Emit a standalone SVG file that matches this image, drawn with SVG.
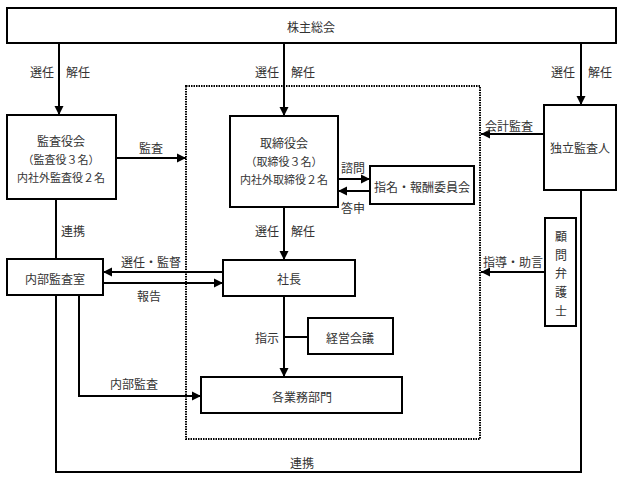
<svg xmlns="http://www.w3.org/2000/svg" width="623" height="479" viewBox="0 0 623 479">
<style>
text{font-family:"Noto Sans CJK JP","Noto Sans CJK SC",sans-serif;font-size:12px;fill:#333;text-anchor:middle;dominant-baseline:central}
.s{font-size:11px}
.box{fill:#fff;stroke:#000;stroke-width:2}
.ln{fill:none;stroke:#000;stroke-width:2}
.ar{marker-end:url(#ah)}
.dot{fill:none;stroke:#000;stroke-width:2;stroke-dasharray:1.5,1}
</style>
<defs>
<marker id="ah" markerUnits="userSpaceOnUse" markerWidth="10" markerHeight="10" refX="9" refY="5" orient="auto">
<path d="M0,0.5 L9,5 L0,9.5 z" fill="#000"/>
</marker>
</defs>
<rect class="dot" x="186" y="86" width="294" height="353"/>
<g id="connectors">
<path class="ln ar" d="M59,43 V115"/>
<path class="ln ar" d="M284,43 V116"/>
<path class="ln ar" d="M581,43 V105"/>
<path class="ln ar" d="M116,158 H186"/>
<path class="ln ar" d="M338,179 H370"/>
<path class="ln ar" d="M370,191 H338"/>
<path class="ln ar" d="M544,134 H481"/>
<path class="ln ar" d="M545,272 H481"/>
<path class="ln ar" d="M284,207 V260"/>
<path class="ln ar" d="M223,272 H103"/>
<path class="ln ar" d="M103,283 H223"/>
<path class="ln ar" d="M284,296 V377"/>
<path class="ln" d="M284,337 H308"/>
<path class="ln ar" d="M79,295 V396 H201"/>
<path class="ln" d="M56,199 V259"/>
<path class="ln" d="M56,295 V472 H581 V190"/>
<text x="42" y="71">選任</text><text x="78" y="71">解任</text>
<text x="267" y="71">選任</text><text x="303" y="71">解任</text>
<text x="563" y="71">選任</text><text x="600" y="71">解任</text>
<text x="151" y="147">監査</text>
<text x="509" y="125">会計監査</text>
<text x="353" y="167">諮問</text>
<text x="353" y="207">答申</text>
<text x="513" y="261">指導・助言</text>
<text x="73" y="230">連携</text>
<text x="267" y="230">選任</text><text x="303" y="230">解任</text>
<text x="151" y="261">選任・監督</text>
<text x="149" y="295">報告</text>
<text x="267" y="337">指示</text>
<text x="134" y="383">内部監査</text>
<text x="302" y="462">連携</text>
</g>
<g id="shareholders"><rect class="box" x="7" y="8" width="609" height="35"/><text x="311" y="26">株主総会</text></g>
<g id="auditors"><rect class="box" x="7" y="115" width="109" height="84"/><text x="61" y="140">監査役会</text><text class="s" x="61" y="159">（監査役３名）</text><text class="s" x="61" y="177">内社外監査役２名</text></g>
<g id="board"><rect class="box" x="230" y="116" width="108" height="91"/><text x="284" y="142">取締役会</text><text class="s" x="284" y="161">（取締役３名）</text><text class="s" x="284" y="179">内社外取締役２名</text></g>
<g id="committee"><rect class="box" x="370" y="166" width="104" height="38"/><text x="422" y="186">指名・報酬委員会</text></g>
<g id="indep"><rect class="box" x="544" y="105" width="72" height="85"/><text x="580" y="147">独立監査人</text></g>
<g id="lawyer"><rect class="box" x="545" y="218" width="31" height="108"/><text x="561" y="235">顧</text><text x="561" y="254">問</text><text x="561" y="272">弁</text><text x="561" y="291">護</text><text x="561" y="310">士</text></g>
<g id="internal"><rect class="box" x="7" y="259" width="96" height="36"/><text x="55" y="278">内部監査室</text></g>
<g id="president"><rect class="box" x="223" y="260" width="132" height="36"/><text x="289" y="278">社長</text></g>
<g id="mgmt"><rect class="box" x="308" y="318" width="85" height="36"/><text x="350" y="337">経営会議</text></g>
<g id="divisions"><rect class="box" x="201" y="377" width="201" height="36"/><text x="302" y="396">各業務部門</text></g>
</svg>
